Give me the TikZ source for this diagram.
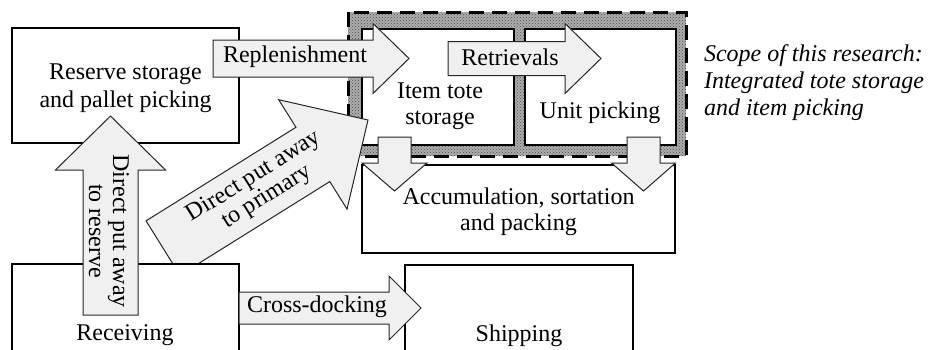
\documentclass[tikz,border=0pt]{standalone}
\usepackage{fontspec}
\setmainfont{Liberation Serif}
\usetikzlibrary{calc,patterns}
\definecolor{arrfill}{HTML}{F0F0F0}
\newcommand\blockarrow[5]{% #1 tail, #2 tip, #3 half shaft, #4 half head, #5 head length
  \path let \p1=(#1), \p2=(#2) in \pgfextra{%
    \pgfmathsetmacro\baang{atan2(\y2-\y1,\x2-\x1)}%
    \pgfmathsetmacro\balen{veclen(\x2-\x1,\y2-\y1)}%
    \xdef\baang{\baang}\xdef\balen{\balen}};
  \begin{scope}[shift={(#1)}, rotate=\baang]
    \filldraw[arr] (0,-#3) -- ({\balen-#5},-#3) -- ({\balen-#5},-#4) -- (\balen,0)
      -- ({\balen-#5},#4) -- ({\balen-#5},#3) -- (0,#3) -- cycle;
  \end{scope}}
\begin{document}
\begin{tikzpicture}[x=1pt,y=-1pt,
  every node/.style={font=\fontsize{24}{27}\selectfont, inner sep=0pt, outer sep=0pt},
  box/.style={draw=black, line width=1.2pt, fill=white, rectangle},
  arr/.style={draw=black!85, line width=1pt, fill=arrfill, line join=miter},
  arrtext/.style={font=\fontsize{24}{24}\selectfont, align=center},
  scopeline/.style={draw=black, line width=3pt, dash pattern=on 15pt off 8pt}]
\useasboundingbox (0,0) rectangle (929,349);
\clip (0,0) rectangle (929,349);
\fill[white] (0,0) rectangle (929,349);

% scope of research band
\fill[black!32] (348,12) rectangle (686,156);
\fill[pattern=crosshatch dots, pattern color=black!70] (348,12) rectangle (686,156);
\node[box, minimum width=152pt, minimum height=116pt] (item) at (438,87) {};
\node[box, minimum width=151pt, minimum height=116pt] (unit) at (600.5,87) {};
\draw[scopeline] (348,12) rectangle (686,156);

% boxes
\node[box, minimum width=227pt, minimum height=115pt] (reserve) at (125.5,85.5) {};
\node[box, minimum width=313pt, minimum height=88pt] (accum) at (518.5,209) {};
\node[box, minimum width=228pt, minimum height=140pt] (shipping) at (519,335) {};

% direct put away to primary
\coordinate (dpT) at (163,248);
\coordinate (dpH) at (368,120);
\blockarrow{dpT}{dpH}{32}{64.5}{65}

\node[box, minimum width=227pt, minimum height=140pt] (receiving) at (125.5,334) {};

% arrows
\coordinate (drT) at (110.5,315);
\coordinate (drH) at (110.5,116);
\blockarrow{drT}{drH}{27.5}{55}{54}
\coordinate (rpT) at (213,58.5);
\coordinate (rpH) at (409,58.5);
\blockarrow{rpT}{rpH}{18.5}{35}{36}
\coordinate (rtT) at (448,58.5);
\coordinate (rtH) at (601,58.5);
\blockarrow{rtT}{rtH}{17}{35}{36}
\coordinate (cdT) at (239,308);
\coordinate (cdH) at (421,308);
\blockarrow{cdT}{cdH}{16}{32}{32}
\coordinate (d1T) at (394.5,137);
\coordinate (d1H) at (394.5,191);
\blockarrow{d1T}{d1H}{16.5}{32.5}{28}
\coordinate (d2T) at (643.5,137);
\coordinate (d2H) at (643.5,191);
\blockarrow{d2T}{d2H}{16.5}{32}{28}

% texts
\node[align=center, font=\fontsize{24}{28}\selectfont] (treserve) at (125.5,88) {Reserve storage\\and pallet picking};
\node[align=center, font=\fontsize{24}{26}\selectfont] (titem) at (440,106) {Item tote\\storage};
\node (tunit) at (600,113) {Unit picking};
\node[align=center, font=\fontsize{24}{26}\selectfont] (taccum) at (518.5,212) {Accumulation, sortation\\and packing};
\node (treceiving) at (125,335) {Receiving};
\node (tshipping) at (519,336) {Shipping};
\node (trepl) at (295,57) {Replenishment};
\node (tretr) at (510,57) {Retrievals};
\node (tcross) at (317,307) {Cross-docking};
\node[arrtext, rotate=-90] (tdr) at (109,231) {Direct put away\\to reserve};
\node[arrtext, rotate=32] (tdp) at (260.5,187) {Direct put away\\to primary};
\node[align=left, anchor=north west, font=\itshape\fontsize{24}{27}\selectfont] (tscope) at (704,45) {Scope of this research:\\Integrated tote storage\\and item picking};
\end{tikzpicture}
\end{document}
